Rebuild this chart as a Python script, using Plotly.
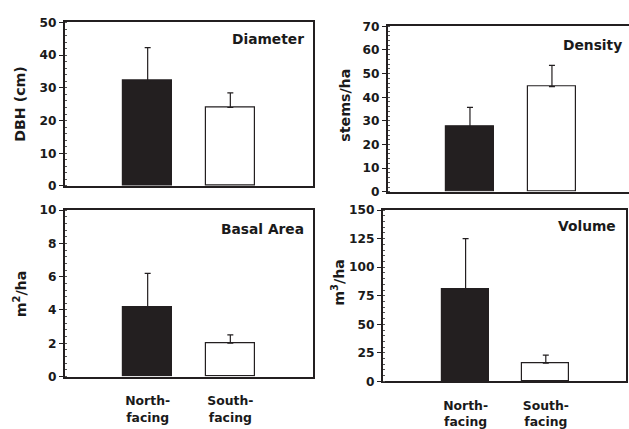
import plotly.graph_objects as go

categories = ["North-facing", "South-facing"]
tick_labels = ["North-<br>facing", "South-<br>facing"]
dbh = [32.2, 24.0]
dbh_err = [10.1, 4.5]
density = [27.5, 44.5]
density_err = [8.2, 9.0]
basal = [4.2, 2.0]
basal_err = [2.0, 0.5]
volume = [81.0, 16.0]
volume_err = [44.0, 7.0]

W, H = 629, 429
BLACK = "#231f20"
TXT = "#1a1a1a"
FONT = "DejaVu Sans"

fig = go.Figure()

panels = [
    (dbh, dbh_err, "x", "y", (65, 313), (16, 185), [0, 50], 10, 2, "Diameter", (306, 33), "DBH (cm)", (20, 100), [-1, 2], False, True),
    (density, density_err, "x2", "y2", (388, 629), (20, 191), [0, 70], 10, 2, "Density", (624, 39), "stems/ha", (345, 102), [-1, 1.94], False, False),
    (basal, basal_err, "x3", "y3", (65, 313), (210, 382), [0, 10], 2, 0.4, "Basal Area", (306, 229), "m<sup>2</sup>/ha", (20, 297), [-1, 2], True, True),
    (volume, volume_err, "x4", "y4", (383, 626), (210, 387), [0, 150], 25, 5, "Volume", (618, 226), "m<sup>3</sup>/ha", (338, 285), [-1.03, 2], True, True),
]

annotations = []
for i, (vals, errs, xa, ya, xd, yd, yr, dt, mdt, title, tpos, ylab, ypos, xr, showx, rline) in enumerate(panels):
    fig.add_trace(go.Bar(
        x=[0, 1], y=vals, xaxis=xa, yaxis=ya, width=0.59,
        marker=dict(color=[BLACK, "white"], line=dict(color=BLACK, width=1.2)),
        error_y=dict(type="data", array=errs, arrayminus=[0, 0], symmetric=False,
                     color=BLACK, thickness=1.2, width=3),
        showlegend=False, hoverinfo="skip",
    ))
    sfx = "" if i == 0 else str(i + 1)
    xaxis = dict(
        domain=[xd[0] / W, xd[1] / W], range=xr, anchor=ya,
        showgrid=False, zeroline=False, showline=True, linecolor=BLACK, linewidth=2,
        mirror=True, ticks="", showticklabels=showx,
        tickfont=dict(family=FONT, size=12.4, color=TXT),
    )
    if showx:
        xaxis["tickvals"] = [0, 1]
        xaxis["ticktext"] = ["<b>%s</b>" % t.replace("<br>", "</b><br><b>") for t in tick_labels]
        xaxis["ticklabelstandoff"] = 12
    fig.layout["xaxis" + sfx] = xaxis
    yticks = list(range(0, yr[1] + 1, dt))
    fig.layout["yaxis" + sfx] = dict(
        domain=[1 - yd[1] / H, 1 - yd[0] / H], range=yr, anchor=xa,
        tickvals=yticks, ticktext=["<b>%d</b>" % v for v in yticks],
        showgrid=False, zeroline=False, showline=True, linecolor=BLACK, linewidth=2,
        mirror=rline, ticks="outside", ticklen=4, tickwidth=1.2, tickcolor=BLACK,
        minor=dict(ticks="inside", ticklen=2, tickwidth=0.8, tickcolor="#555", dtick=mdt, tick0=0),
        tickfont=dict(family=FONT, size=12.2, color=TXT),
    )
    annotations.append(dict(
        text="<b>%s</b>" % title, xref="paper", yref="paper",
        x=tpos[0] / W, y=1 - tpos[1] / H, xanchor="right", yanchor="middle",
        showarrow=False, font=dict(family=FONT, size=13.8, color=TXT),
    ))
    annotations.append(dict(
        text="<b>%s</b>" % ylab, xref="paper", yref="paper",
        x=ypos[0] / W, y=1 - ypos[1] / H, xanchor="center", yanchor="middle",
        textangle=-90, showarrow=False, font=dict(family=FONT, size=14.2, color=TXT),
    ))

fig.update_layout(
    width=W, height=H, margin=dict(l=0, r=0, t=0, b=0),
    paper_bgcolor="white", plot_bgcolor="white",
    annotations=annotations, bargap=0,
    font=dict(family=FONT, color=TXT),
)

fig.write_html("out.html", config={"displayModeBar": False},
               post_script="document.body.style.margin='0';")
